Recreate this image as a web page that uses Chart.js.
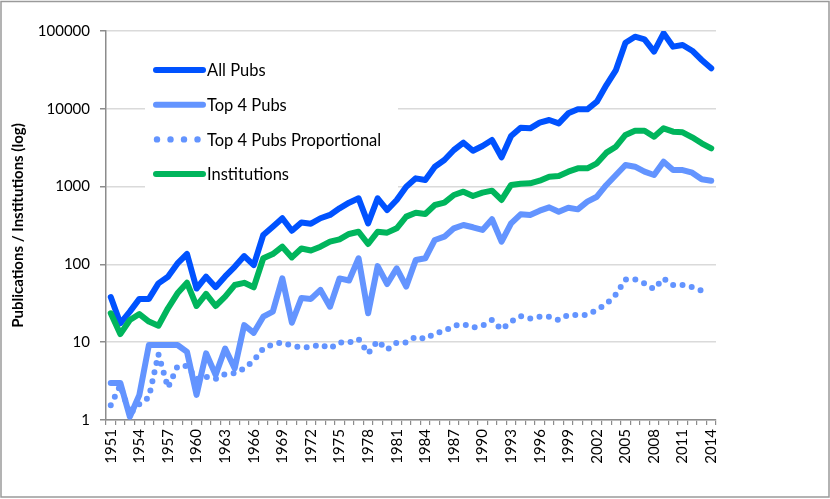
<!DOCTYPE html>
<html>
<head>
<meta charset="utf-8">
<script src="https://cdn.jsdelivr.net/npm/chart.js@4.4.1/dist/chart.umd.min.js"></script>
<style>
  html, body { margin: 0; padding: 0; background: #fff; }
  #wrap { width: 830px; height: 499px; }
</style>
</head>
<body>
<div id="wrap"><canvas id="myChart" width="830" height="499"></canvas></div>
<script>
const years = [
  '1951','1952','1953','1954','1955','1956','1957','1958','1959','1960',
  '1961','1962','1963','1964','1965','1966','1967','1968','1969','1970',
  '1971','1972','1973','1974','1975','1976','1977','1978','1979','1980',
  '1981','1982','1983','1984','1985','1986','1987','1988','1989','1990',
  '1991','1992','1993','1994','1995','1996','1997','1998','1999','2000',
  '2001','2002','2003','2004','2005','2006','2007','2008','2009','2010',
  '2011','2012','2013','2014'
];

const allPubs = [
  38, 17.5, 24.7, 36, 36, 57, 69.5, 103, 136, 49,
  69.5, 51, 70, 93, 128, 98, 239, 305, 392, 271,
  346, 334, 392, 432, 526, 621, 707, 337, 707, 500,
  673, 998, 1277, 1216, 1803, 2197, 2954, 3665, 2893, 3324,
  3970, 2381, 4470, 5700, 5610, 6640, 7180, 6500, 8740, 9840,
  9840, 12360, 20200, 31500, 70800, 84500, 78100, 54200, 93300, 62900,
  66000, 55800, 42400, 33100
];

const top4Pubs = [
  3, 3, 1.1, 2.1, 9.2, 9.2, 9.2, 9.2, 7.5, 2.1,
  7.2, 3.8, 8.3, 4.6, 16.6, 13.2, 21.3, 24.7, 66, 17.8,
  37, 36, 47, 28.6, 66, 62, 120, 23.5, 95, 56,
  89, 52, 114, 120, 206, 227, 291, 321, 300, 277,
  380, 196, 337, 440, 433, 490, 541, 475, 535, 510,
  640, 741, 1049, 1410, 1895, 1803, 1555, 1410, 2090, 1633,
  1633, 1510, 1241, 1191
];

const top4Proportional = [
  1.55, 2.8, 1.2, 1.6, 1.96, 7.0, 2.6, 4.9, 4.95, 3.37,
  3.6, 3.37, 3.9, 4.0, 4.6, 5.8, 8.3, 9.4, 9.9, 9.0,
  8.6, 8.6, 9.4, 8.3, 9.9, 9.9, 11, 7.2, 10.4, 8.0,
  9.9, 9.9, 11.8, 11, 13, 13.9, 16.3, 17.1, 15.4, 16.3,
  19.3, 14.6, 18.4, 21.7, 20.2, 21.3, 21.3, 19.3, 22.4, 22.4,
  22.4, 26, 31, 41, 64, 64, 57, 48, 66, 54.5,
  54.5, 51, 46, null
];

const institutions = [
  23.5, 12.7, 19.3, 23, 18.4, 16.3, 27.3, 42.5, 58, 29.2,
  41.7, 29.2, 38.5, 54.3, 58, 50.8, 120, 136, 169, 123,
  160, 151, 169, 196, 210, 246, 263, 183, 263, 256,
  291, 411, 462, 445, 580, 621, 780, 860, 757, 836,
  887, 673, 1049, 1090, 1102, 1191, 1341, 1368, 1555, 1718,
  1718, 1993, 2731, 3260, 4608, 5231, 5231, 4383, 5610, 5082,
  4990, 4300, 3600, 3105
];

const yTicks = [1, 10, 100, 1000, 10000, 100000];

const FONT = 'Lato, Carlito, "Open Sans", sans-serif';
const C_ALL = '#0052ff';
const C_TOP4 = '#6394ff';
const C_INST = '#00b55c';

// Excel style legend sitting inside the plot, with a white box behind it
const innerLegend = {
  id: 'innerLegend',
  beforeDatasetsDraw(chart) {
    const ctx = chart.ctx;
    ctx.save();
    ctx.fillStyle = '#fff';
    ctx.fillRect(145, 50, 253, 142);
    const items = [
      { text: 'All Pubs', color: C_ALL, dots: false },
      { text: 'Top 4 Pubs', color: C_TOP4, dots: false },
      { text: 'Top 4 Pubs Proportional', color: C_TOP4, dots: true },
      { text: 'Institutions', color: C_INST, dots: false },
    ];
    ctx.font = '16.5px ' + FONT;
    ctx.textBaseline = 'middle';
    items.forEach((it, i) => {
      const y = 70 + i * 34.7;
      ctx.strokeStyle = it.color;
      ctx.fillStyle = it.color;
      if (it.dots) {
        [157, 170.5, 184, 197.5].forEach(x => {
          ctx.beginPath();
          ctx.arc(x, y, 3.2, 0, Math.PI * 2);
          ctx.fill();
        });
      } else {
        ctx.lineWidth = 6;
        ctx.lineCap = 'round';
        ctx.beginPath();
        ctx.moveTo(156, y);
        ctx.lineTo(203, y);
        ctx.stroke();
      }
      ctx.fillStyle = '#000';
      ctx.fillText(it.text, 207, y + 1);
    });
    ctx.restore();
  },
  afterDraw(chart) {
    const ctx = chart.ctx;
    ctx.save();
    ctx.strokeStyle = '#9a9a9a';
    ctx.lineWidth = 1.5;
    ctx.strokeRect(1, 1.5, 828, 495.5);
    ctx.restore();
  }
};

const myChartRef = document.getElementById('myChart').getContext('2d');

new Chart(myChartRef, {
  type: 'line',
  data: {
    labels: years,
    datasets: [
      {
        label: 'All Pubs',
        data: allPubs,
        borderColor: C_ALL,
        backgroundColor: C_ALL,
        borderWidth: 6,
        order: 3,
      },
      {
        label: 'Top 4 Pubs',
        data: top4Pubs,
        borderColor: C_TOP4,
        backgroundColor: C_TOP4,
        borderWidth: 6,
        order: 2,
      },
      {
        label: 'Top 4 Pubs Proportional',
        data: top4Proportional,
        borderColor: C_TOP4,
        backgroundColor: C_TOP4,
        borderWidth: 6,
        borderDash: [0, 9.4],
        borderCapStyle: 'round',
        order: 1,
      },
      {
        label: 'Institutions',
        data: institutions,
        borderColor: C_INST,
        backgroundColor: C_INST,
        borderWidth: 6,
        order: 0,
      },
    ],
  },
  options: {
    responsive: false,
    animation: false,
    devicePixelRatio: 1,
    layout: { padding: { top: 31, right: 114, left: 0, bottom: 0 } },
    elements: {
      point: { radius: 0, hoverRadius: 0 },
      line: { tension: 0, borderJoinStyle: 'round', borderCapStyle: 'round' },
    },
    plugins: {
      legend: { display: false },
      tooltip: { enabled: false },
    },
    scales: {
      x: {
        type: 'category',
        offset: true,
        afterFit(scale) { scale.height = 79; },
        grid: {
          offset: true,
          drawOnChartArea: false,
          drawTicks: true,
          tickLength: 5,
          color: '#8c8c8c',
          lineWidth: 1.2,
        },
        border: { color: '#8c8c8c', width: 1.5 },
        ticks: {
          autoSkip: false,
          maxRotation: 90,
          minRotation: 90,
          padding: 4,
          color: '#000',
          font: { family: FONT, size: 15 },
          callback(val, idx) { return idx % 3 === 0 ? years[idx] : ''; },
        },
      },
      y: {
        type: 'logarithmic',
        min: 1,
        max: 100000,
        afterFit(scale) { scale.width = 106; },
        afterBuildTicks(scale) { scale.ticks = yTicks.map(v => ({ value: v })); },
        grid: {
          color: '#dadada',
          lineWidth: 1.5,
          tickColor: '#8c8c8c',
          tickLength: 6,
        },
        border: { color: '#8c8c8c', width: 1.5 },
        ticks: {
          padding: 10,
          color: '#000',
          font: { family: FONT, size: 15 },
          callback(val) { return String(val); },
        },
        title: {
          display: true,
          text: 'Publications / Institutions (log)',
          color: '#000',
          font: { family: FONT, size: 15, weight: 'bold' },
          padding: { top: 9, bottom: 0 },
        },
      },
    },
  },
  plugins: [innerLegend],
});
</script>
</body>
</html>
